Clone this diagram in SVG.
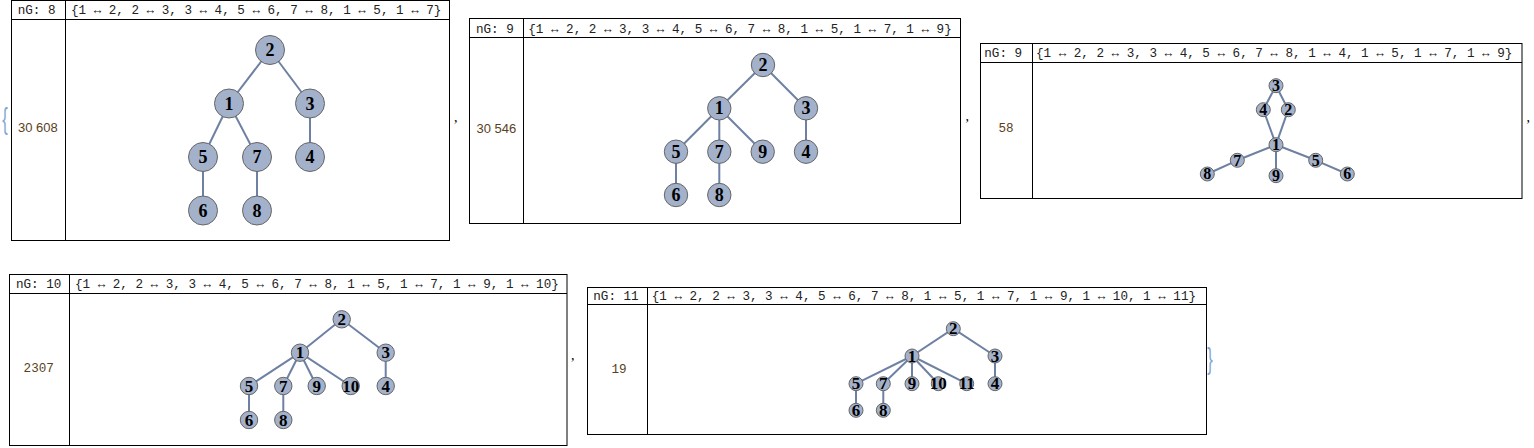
<svg xmlns="http://www.w3.org/2000/svg" width="1534" height="448" viewBox="0 0 1534 448">
<style>
.box{fill:none;stroke:#000;stroke-width:1}
.hdr{font-family:"Liberation Mono",monospace;font-size:12.6px;fill:#222}
.num{font-family:"Liberation Mono",monospace;font-size:12.6px;fill:#5a3f22;text-anchor:middle}
.nums{font-family:"Liberation Sans",Arial,sans-serif;font-size:13px;fill:#5a3f22;text-anchor:middle}
.node circle{fill:#a3b1cb;stroke:#666;stroke-width:1}
.node text{font-family:"Liberation Serif","Times New Roman",serif;font-weight:bold;text-anchor:middle;fill:#000}
.p1 text,.p2 text{font-size:18px}
.p3 text{font-size:16px}
.p4 text,.p5 text{font-size:17px}
.edge line{stroke:#6e81a3;stroke-width:2}
.punct{font-family:"Liberation Serif",serif;font-size:14px;fill:#000}
.brace{font-family:"Liberation Sans",sans-serif;font-size:30px;fill:#7fa7d6;text-anchor:middle}
</style>

<!-- outer list braces and separators -->
<text class="brace" transform="translate(5,129) scale(0.55,1)">{</text>
<text class="brace" transform="translate(1210,369) scale(0.55,1)">}</text>
<text class="punct" x="454" y="122">,</text>
<text class="punct" x="965.5" y="121">,</text>
<text class="punct" x="1526.5" y="122">,</text>
<text class="punct" x="571" y="360">,</text>

<!-- panel frames -->
<g id="frame1">
<rect class="box" x="11.5" y="0.5" width="438" height="240"/>
<line class="box" x1="11.5" y1="19.5" x2="449.5" y2="19.5"/>
<line class="box" x1="65.5" y1="0.5" x2="65.5" y2="240.5"/>
<text class="hdr" x="17.7" y="14">nG: 8</text>
<text class="hdr" x="71" y="14" textLength="370.4">{1 ↔ 2, 2 ↔ 3, 3 ↔ 4, 5 ↔ 6, 7 ↔ 8, 1 ↔ 5, 1 ↔ 7}</text>
<text class="nums" x="37.8" y="131.5">30 608</text>
</g>
<g id="frame2">
<rect class="box" x="469.5" y="18.5" width="491" height="205"/>
<line class="box" x1="469.5" y1="37.5" x2="960.5" y2="37.5"/>
<line class="box" x1="523.5" y1="18.5" x2="523.5" y2="223.5"/>
<text class="hdr" x="476" y="32.5">nG: 9</text>
<text class="hdr" x="528.3" y="32.5" textLength="423.4">{1 ↔ 2, 2 ↔ 3, 3 ↔ 4, 5 ↔ 6, 7 ↔ 8, 1 ↔ 5, 1 ↔ 7, 1 ↔ 9}</text>
<text class="nums" x="496.3" y="133">30 546</text>
</g>
<g id="frame3">
<rect class="box" x="980.5" y="43.5" width="541.5" height="155"/>
<line class="box" x1="980.5" y1="62.5" x2="1522" y2="62.5"/>
<line class="box" x1="1032.5" y1="43.5" x2="1032.5" y2="198.5"/>
<text class="hdr" x="984.3" y="57.2">nG: 9</text>
<text class="hdr" x="1036" y="57.2" textLength="476.3">{1 ↔ 2, 2 ↔ 3, 3 ↔ 4, 5 ↔ 6, 7 ↔ 8, 1 ↔ 4, 1 ↔ 5, 1 ↔ 7, 1 ↔ 9}</text>
<text class="num" x="1006" y="132">58</text>
</g>
<g id="frame4">
<rect class="box" x="9.5" y="274.5" width="557.5" height="171"/>
<line class="box" x1="9.5" y1="293.5" x2="567" y2="293.5"/>
<line class="box" x1="69.5" y1="274.5" x2="69.5" y2="445.5"/>
<text class="hdr" x="16" y="288.3">nG: 10</text>
<text class="hdr" x="75" y="288.3" textLength="483.8">{1 ↔ 2, 2 ↔ 3, 3 ↔ 4, 5 ↔ 6, 7 ↔ 8, 1 ↔ 5, 1 ↔ 7, 1 ↔ 9, 1 ↔ 10}</text>
<text class="num" x="38.7" y="372">2307</text>
</g>
<g id="frame5">
<rect class="box" x="587.5" y="287.5" width="619" height="147"/>
<line class="box" x1="587.5" y1="304.5" x2="1206.5" y2="304.5"/>
<line class="box" x1="647.5" y1="287.5" x2="647.5" y2="434.5"/>
<text class="hdr" x="593.3" y="299.5">nG: 11</text>
<text class="hdr" x="651.7" y="299.5" textLength="544.3">{1 ↔ 2, 2 ↔ 3, 3 ↔ 4, 5 ↔ 6, 7 ↔ 8, 1 ↔ 5, 1 ↔ 7, 1 ↔ 9, 1 ↔ 10, 1 ↔ 11}</text>
<text class="num" x="619" y="372.5">19</text>
</g>

<g id="connectors">
<g class="edge" id="edges1">
<line x1="229" y1="103.5" x2="270" y2="50"/>
<line x1="270" y1="50" x2="310" y2="103.5"/>
<line x1="310" y1="103.5" x2="310" y2="157"/>
<line x1="203" y1="157" x2="203" y2="210.5"/>
<line x1="257" y1="157" x2="257" y2="210.5"/>
<line x1="229" y1="103.5" x2="203" y2="157"/>
<line x1="229" y1="103.5" x2="257" y2="157"/>
</g>
<g class="edge" id="edges2">
<line x1="719.3" y1="108.3" x2="763" y2="65"/>
<line x1="763" y1="65" x2="806" y2="108.3"/>
<line x1="806" y1="108.3" x2="806" y2="151.7"/>
<line x1="676" y1="151.7" x2="676" y2="195"/>
<line x1="719.3" y1="151.7" x2="719.3" y2="195"/>
<line x1="719.3" y1="108.3" x2="676" y2="151.7"/>
<line x1="719.3" y1="108.3" x2="719.3" y2="151.7"/>
<line x1="719.3" y1="108.3" x2="762.7" y2="151.7"/>
</g>
<g class="edge" id="edges3">
<line x1="1276" y1="144.7" x2="1288.3" y2="109.7"/>
<line x1="1288.3" y1="109.7" x2="1276" y2="85.7"/>
<line x1="1276" y1="85.7" x2="1263.3" y2="109.7"/>
<line x1="1315.7" y1="160.3" x2="1347.3" y2="174"/>
<line x1="1237.3" y1="160.3" x2="1207.3" y2="174"/>
<line x1="1276" y1="144.7" x2="1263.3" y2="109.7"/>
<line x1="1276" y1="144.7" x2="1315.7" y2="160.3"/>
<line x1="1276" y1="144.7" x2="1237.3" y2="160.3"/>
<line x1="1276" y1="144.7" x2="1276" y2="175.7"/>
</g>
<g class="edge" id="edges4">
<line x1="300" y1="352.7" x2="341.7" y2="319.3"/>
<line x1="341.7" y1="319.3" x2="385.7" y2="352.7"/>
<line x1="385.7" y1="352.7" x2="385.7" y2="386"/>
<line x1="249" y1="386" x2="249" y2="420"/>
<line x1="283.3" y1="386" x2="283.3" y2="420"/>
<line x1="300" y1="352.7" x2="249" y2="386"/>
<line x1="300" y1="352.7" x2="283.3" y2="386"/>
<line x1="300" y1="352.7" x2="316.7" y2="386"/>
<line x1="300" y1="352.7" x2="350.7" y2="386"/>
</g>
<g class="edge" id="edges5">
<line x1="912" y1="356" x2="953.3" y2="328.7"/>
<line x1="953.3" y1="328.7" x2="995" y2="356"/>
<line x1="995" y1="356" x2="995" y2="383.7"/>
<line x1="856" y1="383.7" x2="856" y2="410.3"/>
<line x1="883.3" y1="383.7" x2="883.3" y2="410.3"/>
<line x1="912" y1="356" x2="856" y2="383.7"/>
<line x1="912" y1="356" x2="883.3" y2="383.7"/>
<line x1="912" y1="356" x2="912" y2="383.7"/>
<line x1="912" y1="356" x2="938.3" y2="383.7"/>
<line x1="912" y1="356" x2="966.7" y2="383.7"/>
</g>
</g>

<!-- panel 1 nodes -->
<g class="node p1" id="p1-n2"><circle cx="270" cy="50" r="14.5"/><text x="270" y="56">2</text></g>
<g class="node p1" id="p1-n1"><circle cx="229" cy="103.5" r="14.5"/><text x="229" y="109.5">1</text></g>
<g class="node p1" id="p1-n3"><circle cx="310" cy="103.5" r="14.5"/><text x="310" y="109.5">3</text></g>
<g class="node p1" id="p1-n5"><circle cx="203" cy="157" r="14.5"/><text x="203" y="163">5</text></g>
<g class="node p1" id="p1-n7"><circle cx="257" cy="157" r="14.5"/><text x="257" y="163">7</text></g>
<g class="node p1" id="p1-n4"><circle cx="310" cy="157" r="14.5"/><text x="310" y="163">4</text></g>
<g class="node p1" id="p1-n6"><circle cx="203" cy="210.5" r="14.5"/><text x="203" y="216.5">6</text></g>
<g class="node p1" id="p1-n8"><circle cx="257" cy="210.5" r="14.5"/><text x="257" y="216.5">8</text></g>

<!-- panel 2 nodes -->
<g class="node p2" id="p2-n2"><circle cx="763" cy="65" r="11.7"/><text x="763" y="71">2</text></g>
<g class="node p2" id="p2-n1"><circle cx="719.3" cy="108.3" r="11.7"/><text x="719.3" y="114.3">1</text></g>
<g class="node p2" id="p2-n3"><circle cx="806" cy="108.3" r="11.7"/><text x="806" y="114.3">3</text></g>
<g class="node p2" id="p2-n5"><circle cx="676" cy="151.7" r="11.7"/><text x="676" y="157.7">5</text></g>
<g class="node p2" id="p2-n7"><circle cx="719.3" cy="151.7" r="11.7"/><text x="719.3" y="157.7">7</text></g>
<g class="node p2" id="p2-n9"><circle cx="762.7" cy="151.7" r="11.7"/><text x="762.7" y="157.7">9</text></g>
<g class="node p2" id="p2-n4"><circle cx="806" cy="151.7" r="11.7"/><text x="806" y="157.7">4</text></g>
<g class="node p2" id="p2-n6"><circle cx="676" cy="195" r="11.7"/><text x="676" y="201">6</text></g>
<g class="node p2" id="p2-n8"><circle cx="719.3" cy="195" r="11.7"/><text x="719.3" y="201">8</text></g>

<!-- panel 3 nodes -->
<g class="node p3" id="p3-n3"><circle cx="1276" cy="85.7" r="7"/><text x="1276" y="91">3</text></g>
<g class="node p3" id="p3-n4"><circle cx="1263.3" cy="109.7" r="7"/><text x="1263.3" y="115">4</text></g>
<g class="node p3" id="p3-n2"><circle cx="1288.3" cy="109.7" r="7"/><text x="1288.3" y="115">2</text></g>
<g class="node p3" id="p3-n1"><circle cx="1276" cy="144.7" r="7"/><text x="1276" y="150">1</text></g>
<g class="node p3" id="p3-n7"><circle cx="1237.3" cy="160.3" r="7"/><text x="1237.3" y="165.6">7</text></g>
<g class="node p3" id="p3-n5"><circle cx="1315.7" cy="160.3" r="7"/><text x="1315.7" y="165.6">5</text></g>
<g class="node p3" id="p3-n8"><circle cx="1207.3" cy="174" r="7"/><text x="1207.3" y="179.3">8</text></g>
<g class="node p3" id="p3-n9"><circle cx="1276" cy="175.7" r="7"/><text x="1276" y="181">9</text></g>
<g class="node p3" id="p3-n6"><circle cx="1347.3" cy="174" r="7"/><text x="1347.3" y="179.3">6</text></g>

<!-- panel 4 nodes -->
<g class="node p4" id="p4-n2"><circle cx="341.7" cy="319.3" r="8.7"/><text x="341.7" y="325">2</text></g>
<g class="node p4" id="p4-n1"><circle cx="300" cy="352.7" r="8.7"/><text x="300" y="358.4">1</text></g>
<g class="node p4" id="p4-n3"><circle cx="385.7" cy="352.7" r="8.7"/><text x="385.7" y="358.4">3</text></g>
<g class="node p4" id="p4-n5"><circle cx="249" cy="386" r="8.7"/><text x="249" y="391.7">5</text></g>
<g class="node p4" id="p4-n7"><circle cx="283.3" cy="386" r="8.7"/><text x="283.3" y="391.7">7</text></g>
<g class="node p4" id="p4-n9"><circle cx="316.7" cy="386" r="8.7"/><text x="316.7" y="391.7">9</text></g>
<g class="node p4" id="p4-n10"><circle cx="350.7" cy="386" r="8.7"/><text x="350.7" y="391.7">10</text></g>
<g class="node p4" id="p4-n4"><circle cx="385.7" cy="386" r="8.7"/><text x="385.7" y="391.7">4</text></g>
<g class="node p4" id="p4-n6"><circle cx="249" cy="420" r="8.7"/><text x="249" y="425.7">6</text></g>
<g class="node p4" id="p4-n8"><circle cx="283.3" cy="420" r="8.7"/><text x="283.3" y="425.7">8</text></g>

<!-- panel 5 nodes -->
<g class="node p5" id="p5-n2"><circle cx="953.3" cy="328.7" r="7"/><text x="953.3" y="334.4">2</text></g>
<g class="node p5" id="p5-n1"><circle cx="912" cy="356" r="7"/><text x="912" y="361.7">1</text></g>
<g class="node p5" id="p5-n3"><circle cx="995" cy="356" r="7"/><text x="995" y="361.7">3</text></g>
<g class="node p5" id="p5-n5"><circle cx="856" cy="383.7" r="7"/><text x="856" y="389.4">5</text></g>
<g class="node p5" id="p5-n7"><circle cx="883.3" cy="383.7" r="7"/><text x="883.3" y="389.4">7</text></g>
<g class="node p5" id="p5-n9"><circle cx="912" cy="383.7" r="7"/><text x="912" y="389.4">9</text></g>
<g class="node p5" id="p5-n10"><circle cx="938.3" cy="383.7" r="7"/><text x="938.3" y="389.4">10</text></g>
<g class="node p5" id="p5-n11"><circle cx="966.7" cy="383.7" r="7"/><text x="966.7" y="389.4">11</text></g>
<g class="node p5" id="p5-n4"><circle cx="995" cy="383.7" r="7"/><text x="995" y="389.4">4</text></g>
<g class="node p5" id="p5-n6"><circle cx="856" cy="410.3" r="7"/><text x="856" y="416">6</text></g>
<g class="node p5" id="p5-n8"><circle cx="883.3" cy="410.3" r="7"/><text x="883.3" y="416">8</text></g>
</svg>
